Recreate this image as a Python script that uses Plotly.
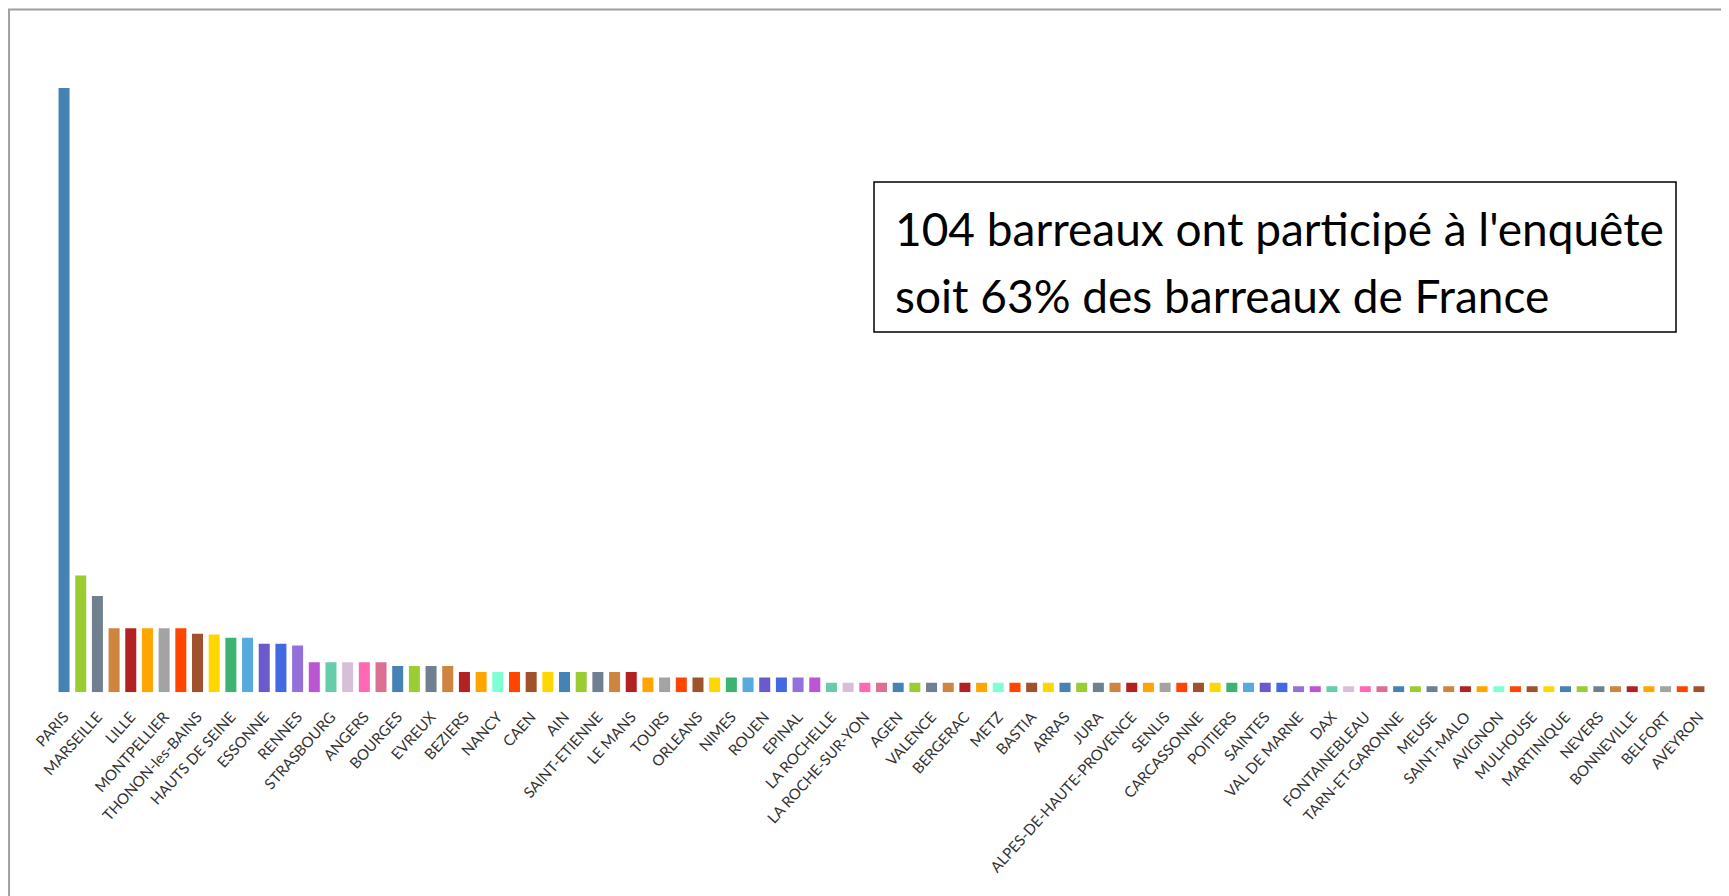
import plotly.graph_objs as go

# Barreaux (every bar) (no axis shown).
# Only every other bar is labelled in the original, the unlabelled ones get a placeholder id.
barreaux = [
    "PARIS", "b01", "MARSEILLE", "b03", "LILLE", "b05", "MONTPELLIER", "b07",
    "THONON-les-BAINS", "b09", "HAUTS DE SEINE", "b11", "ESSONNE", "b13",
    "RENNES", "b15", "STRASBOURG", "b17", "ANGERS", "b19", "BOURGES", "b21",
    "EVREUX", "b23", "BEZIERS", "b25", "NANCY", "b27", "CAEN", "b29", "AIN",
    "b31", "SAINT-ETIENNE", "b33", "LE MANS", "b35", "TOURS", "b37", "ORLEANS",
    "b39", "NIMES", "b41", "ROUEN", "b43", "EPINAL", "b45", "LA ROCHELLE",
    "b47", "LA ROCHE-SUR-YON", "b49", "AGEN", "b51", "VALENCE", "b53",
    "BERGERAC", "b55", "METZ", "b57", "BASTIA", "b59", "ARRAS", "b61", "JURA",
    "b63", "ALPES-DE-HAUTE-PROVENCE", "b65", "SENLIS", "b67", "CARCASSONNE",
    "b69", "POITIERS", "b71", "SAINTES", "b73", "VAL DE MARNE", "b75", "DAX",
    "b77", "FONTAINEBLEAU", "b79", "TARN-ET-GARONNE", "b81", "MEUSE", "b83",
    "SAINT-MALO", "b85", "AVIGNON", "b87", "MULHOUSE", "b89", "MARTINIQUE",
    "b91", "NEVERS", "b93", "BONNEVILLE", "b95", "BELFORT", "b97", "AVEYRON",
]

valeurs = [
    163, 31.5, 26, 17.3, 17.3, 17.3, 17.3, 17.3, 15.8, 15.6,
    14.7, 14.7, 13.1, 13.1, 12.6, 8.1, 8.1, 8.1, 8.1, 8.1,
    7.1, 7.1, 7.1, 7.1, 5.5, 5.5, 5.5, 5.5, 5.5, 5.5,
    5.5, 5.5, 5.5, 5.5, 5.5, 4.0, 4.0, 4.0, 4.0, 4.0,
    4.0, 4.0, 4.0, 4.0, 4.0, 4.0, 2.6, 2.6, 2.6, 2.6,
    2.6, 2.6, 2.6, 2.6, 2.6, 2.6, 2.6, 2.6, 2.6, 2.6,
    2.6, 2.6, 2.6, 2.6, 2.6, 2.6, 2.6, 2.6, 2.6, 2.6,
    2.6, 2.6, 2.6, 2.6, 1.6, 1.6, 1.6, 1.6, 1.6, 1.6,
    1.6, 1.6, 1.6, 1.6, 1.6, 1.6, 1.6, 1.6, 1.6, 1.6,
    1.6, 1.6, 1.6, 1.6, 1.6, 1.6, 1.6, 1.6, 1.6,
]

# only every other bar carries a label
etiquettes = barreaux[::2]

encadre = ["104 barreaux ont participé à l'enquête",
           "soit 63% des barreaux de France"]

# Excel "vary colours by point" cycle: 20 colours, then 10, repeated
cycle_a = ["#4682B4", "#9ACD32", "#708090", "#CD853F", "#B22222", "#FFA500",
           "#A3A3A3", "#FF4500", "#A0522D", "#FFD700", "#3CB371", "#56AADD",
           "#6A5ACD", "#4169E1", "#9370DB", "#BA55D3", "#66CDAA", "#D8BFD8",
           "#FF69B4", "#DB7093"]
cycle_b = ["#4682B4", "#9ACD32", "#708090", "#CD853F", "#B22222", "#FFA500",
           "#7FFFD4", "#FF4500", "#A0522D", "#FFD700"]
couleurs = ((cycle_a + cycle_b) * 4)[:len(barreaux)]

# the page body has an 8px margin, so the figure starts at (8, 8) in the window
OFF = 8
W, H = 1729 - OFF, 896 - OFF


def px_x(x):
    # window pixel -> paper fraction
    return (x - OFF) / W


def px_y(y):
    return 1 - (y - OFF) / H


fig = go.Figure()
fig.add_trace(go.Bar(x=barreaux, y=valeurs, marker=dict(color=couleurs, line=dict(width=0))))

fig.update_layout(
    width=W, height=H,
    margin=dict(l=0, r=0, t=0, b=0),
    paper_bgcolor="white",
    plot_bgcolor="white",
    showlegend=False,
    bargap=0.34,
    font=dict(family="Lato, Open Sans, sans-serif", color="#333333"),
    xaxis=dict(
        domain=[px_x(55.7), px_x(1707.3)],
        type="category",
        tickmode="array",
        tickvals=etiquettes,
        ticktext=etiquettes,
        tickangle=-48,
        tickfont=dict(size=15, color="#333333"),
        ticks="",
        ticklabelstandoff=12,
        showline=False,
        showgrid=False,
        automargin=False,
    ),
    yaxis=dict(
        domain=[px_y(692.3), px_y(88)],
        range=[0, 163],
        visible=False,
        automargin=False,
    ),
)

# grey frame of the original chart area (cut at right and bottom)
fig.add_shape(type="line", xref="paper", yref="paper",
              x0=0.0006, x1=0.0006, y0=-0.1, y1=px_y(9.5),
              line=dict(color="#A0A0A0", width=2))
fig.add_shape(type="line", xref="paper", yref="paper",
              x0=0, x1=1.1, y0=px_y(9.5), y1=px_y(9.5),
              line=dict(color="#A0A0A0", width=2))

# text box
fig.add_shape(type="rect", xref="paper", yref="paper",
              x0=px_x(874), x1=px_x(1676), y0=px_y(332), y1=px_y(182),
              line=dict(color="black", width=1.5), fillcolor="white")
for ligne, yc in zip(encadre, [229, 295.5]):
    fig.add_annotation(text=ligne, xref="paper", yref="paper",
                       x=px_x(893), y=px_y(yc), xanchor="left", yanchor="middle",
                       showarrow=False, font=dict(size=46, color="black"))

fig.write_html("out.html")
